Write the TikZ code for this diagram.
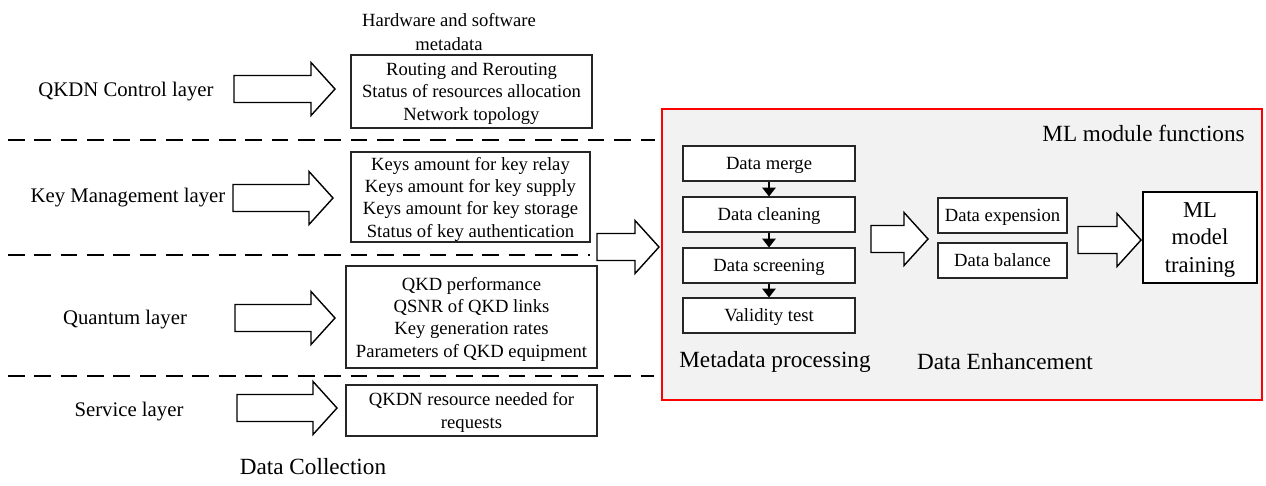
\documentclass[tikz,border=0pt]{standalone}
\usepackage{fontspec}
\setmainfont{Liberation Serif}
\usetikzlibrary{arrows.meta}
\def\pxu{0.02cm}
\definecolor{panelgray}{HTML}{F2F2F2}
\definecolor{framered}{HTML}{FF0000}
\definecolor{edgegray}{HTML}{262626}
\tikzset{
  x=0.02cm, y=-0.02cm,
  smalltext/.style={font=\fontsize{10.6}{12.7}\selectfont, align=center, inner sep=0pt},
  layertext/.style={font=\fontsize{11.8}{14}\selectfont, inner sep=0pt},
  captext/.style={font=\fontsize{13.2}{15.8}\selectfont, inner sep=0pt},
  infobox/.style={smalltext, draw=edgegray, line width=0.6pt, fill=white, text depth=0pt},
  stepbox/.style={infobox, minimum width=172*\pxu, minimum height=35*\pxu},
  enhbox/.style={infobox, minimum width=129*\pxu, minimum height=35*\pxu},
  fatarrow/.style={draw=black, line width=0.8pt, fill=white, line join=miter},
  flow/.style={draw=black, line width=1.1pt, -{Triangle[width=7.5pt,length=5pt]}},
  sep/.style={draw=black, line width=0.9pt, dash pattern=on 9.5pt off 5.5pt}
}
% block arrow: start x, tip x, centre y
\newcommand\fatarrow[3]{%
  \draw[fatarrow] ({#1},{#3-13.5}) -- ({#2-24},{#3-13.5}) -- ({#2-24},{#3-26.5})
    -- ({#2},{#3}) -- ({#2-24},{#3+26.5}) -- ({#2-24},{#3+13.5})
    -- ({#1},{#3+13.5}) -- cycle;}
\begin{document}
\begin{tikzpicture}
\useasboundingbox (0,0) rectangle (1266,485);

% layer separators
\coordinate (s1a) at (8,140);  \coordinate (s1b) at (655,140);
\coordinate (s2a) at (8,255);  \coordinate (s2b) at (590,255);
\coordinate (s3a) at (8,376);  \coordinate (s3b) at (654,376);
\draw[sep] (s1a) -- (s1b);
\draw[sep] (s2a) -- (s2b);
\draw[sep] (s3a) -- (s3b);

% layer names
\node[layertext] (ctrl) at (126,92) {QKDN Control layer};
\node[layertext] (keym) at (128,198) {Key Management layer};
\node[layertext] (quant) at (125,320) {Quantum layer};
\node[layertext] (serv) at (129,412) {Service layer};

% collected data
\node[smalltext, font=\fontsize{10.6}{13.6}\selectfont] (hwsw) at (449,32) {Hardware and software\\metadata};
\node[infobox, minimum width=241*\pxu, minimum height=73*\pxu] (ctrlbox) at (471.5,91.5)
  {Routing and Rerouting\\Status of resources allocation\\Network topology};
\node[infobox, minimum width=239*\pxu, minimum height=90*\pxu] (keybox) at (470.5,197)
  {Keys amount for key relay\\Keys amount for key supply\\Keys amount for key storage\\Status of key authentication};
\node[infobox, minimum width=251*\pxu, minimum height=102*\pxu] (qbox) at (471.5,317)
  {QKD performance\\QSNR of QKD links\\Key generation rates\\Parameters of QKD equipment};
\node[infobox, minimum width=251*\pxu, minimum height=51*\pxu] (sbox) at (471.5,410.5)
  {QKDN resource needed for\\requests};
\node[captext] (collect) at (313,467) {Data Collection};

\fatarrow{234}{335}{89}
\fatarrow{233}{333}{198}
\fatarrow{235}{335}{318}
\fatarrow{237}{337}{408}

% ML module panel
\node[draw=framered, line width=1.1pt, fill=panelgray, minimum width=600*\pxu, minimum height=291*\pxu, inner sep=0pt] (mlframe) at (962,254.5) {};
\node[captext, anchor=east] (mltitle) at (1245,133) {ML module functions};

\fatarrow{597}{659}{247}

\node[stepbox] (merge) at (769,163.5) {Data merge};
\node[stepbox] (clean) at (769,214.5) {Data cleaning};
\node[stepbox] (screen) at (769,265.5) {Data screening};
\node[stepbox] (valid) at (769,315.5) {Validity test};
\draw[flow] (merge) -- (clean);
\draw[flow] (clean) -- (screen);
\draw[flow] (screen) -- (valid);
\node[captext] (metaproc) at (775,362) {Metadata processing};

\fatarrow{871}{928}{239}

\node[enhbox] (expand) at (1002.5,215.5) {Data expension};
\node[enhbox] (balance) at (1002.5,260.5) {Data balance};
\node[captext] (enhance) at (1005,362) {Data Enhancement};

\fatarrow{1078}{1141}{240}

\node[draw=black, line width=1.3pt, fill=white, align=center, inner sep=0pt,
  font=\fontsize{12.9}{15.6}\selectfont, text depth=0pt,
  minimum width=114*\pxu, minimum height=91*\pxu] (train) at (1200,237.5) {ML\\model\\training};
\end{tikzpicture}
\end{document}
